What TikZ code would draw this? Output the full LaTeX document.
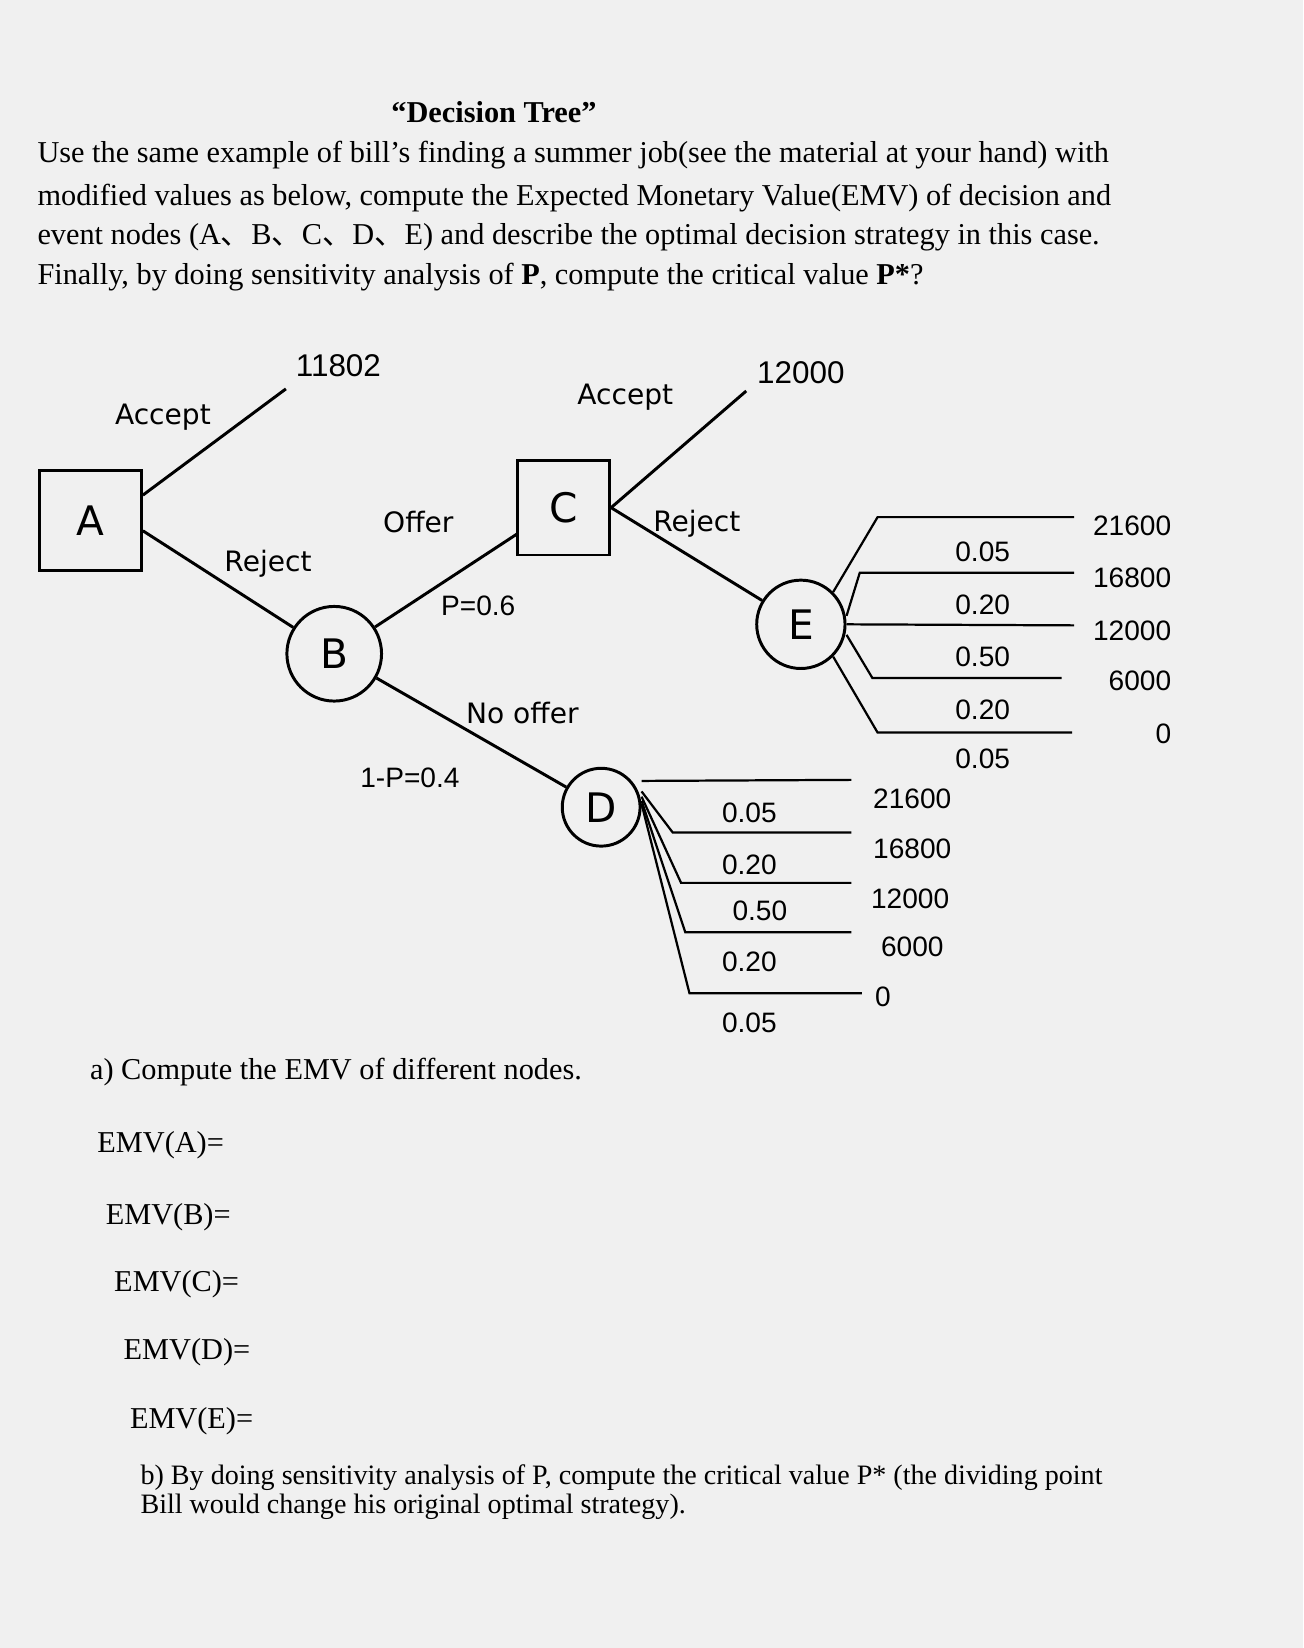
\documentclass[tikz,border=0pt]{standalone}
\usepackage{fontspec}
\setmainfont{Liberation Serif}
\newfontfamily\hand{DejaVu Sans}
\newfontfamily\num{Liberation Sans}
\newfontfamily\cjk{Noto Sans CJK SC}
\newcommand{\dn}{{\cjk 、}}
\begin{document}
\begin{tikzpicture}[x=0.01cm,y=-0.01cm,
  txt/.style={font=\fontsize{8.2}{9}\selectfont,anchor=west,inner sep=0},
  lab/.style={font=\hand\fontsize{7.6}{9}\selectfont,inner sep=0},
  nm/.style={font=\num\fontsize{7.6}{9}\selectfont,inner sep=0},
  br/.style={line width=0.8pt},
  thin/.style={line width=0.6pt}]
\fill[gray!12] (0,0) rectangle (1240,1568);
\useasboundingbox (0,0) rectangle (1240,1568);
\node[txt,anchor=center,font=\bfseries\fontsize{8.2}{9}\selectfont] (title) at (470,107) {“Decision Tree”};
\node[txt] (l1) at (35,148) {Use the same example of bill’s finding a summer job(see the material at your hand) with};
\node[txt] (l2) at (35,188) {modified values as below, compute the Expected Monetary Value(EMV) of decision and};
\node[txt] (l3) at (35,226) {event nodes (A\dn B\dn C\dn D\dn E) and describe the optimal decision strategy in this case.};
\node[txt] (l4) at (35,264) {Finally, by doing sensitivity analysis of \textbf{P}, compute the critical value \textbf{P*}?};
% nodes
\node[draw,br,minimum width=0.97cm,minimum height=0.95cm,lab,font=\hand\fontsize{11}{12}\selectfont] (A) at (86,495) {A};
\node[draw,br,minimum width=0.88cm,minimum height=0.9cm,lab,font=\hand\fontsize{11}{12}\selectfont] (C) at (536,483) {C};
\node[draw,br,circle,minimum size=0.9cm,lab,font=\hand\fontsize{11}{12}\selectfont] (B) at (318,622) {B};
\node[draw,br,circle,minimum size=0.84cm,lab,font=\hand\fontsize{11}{12}\selectfont] (E) at (762,594) {E};
\node[draw,br,circle,minimum size=0.74cm,lab,font=\hand\fontsize{11}{12}\selectfont] (D) at (572,768) {D};
\coordinate (a1) at (272,370);
\coordinate (c1) at (710,372);
\coordinate (cw) at (492,508);
\draw[br] (A.north east)++(0,25) -- (a1);
\draw[br] (A.east)++(0,10) -- (B);
\draw[br] (B) -- (cw);
\draw[br] (C.east) -- (c1);
\draw[br] (C.east) -- (E);
\draw[br] (B) -- (D);
\node[lab] at (155,397) {Accept};
\node[nm,font=\num\fontsize{8.5}{9}\selectfont] at (322,348) {11802};
\node[lab] at (255,536) {Reject};
\node[lab] at (398,497) {Offer};
\node[nm] at (455,576) {P=0.6};
\node[lab] at (595,378) {Accept};
\node[nm,font=\num\fontsize{8.5}{9}\selectfont] at (762,355) {12000};
\node[lab] at (663,498) {Reject};
\node[lab] at (497,678) {No offer};
\node[nm] at (390,740) {1-P=0.4};
% E branches
\draw[thin] (E.north east) -- (835,492) -- (1022,492);
\draw[thin] (E.east)++(0,-8) -- (818,545) -- (1022,545);
\draw[thin] (E.east) -- (1022,595);
\draw[thin] (E.east)++(0,10) -- (830,645) -- (1010,645);
\draw[thin] (E.south east) -- (835,697) -- (1020,697);
\foreach \y/\t in {525/0.05,575/0.20,625/0.50,675/0.20,722/0.05} \node[nm] at (935,\y) {\t};
\foreach \y/\t in {500/21600,550/16800,600/12000,648/6000,698/0} \node[nm,anchor=east] at (1115,\y) {\t};
% D branches
\draw[thin] (D.east)++(0,-25) -- (810,742);
\draw[thin] (D.east)++(0,-15) -- (640,792) -- (810,792);
\draw[thin] (D.east)++(0,-10) -- (648,840) -- (810,840);
\draw[thin] (D.east)++(0,-6) -- (652,887) -- (810,887);
\draw[thin] (D.east)++(0,-3) -- (656,945) -- (820,945);
\foreach \y/\t in {773/0.05,823/0.20,915/0.20,973/0.05} \node[nm] at (713,\y) {\t};
\node[nm] at (723,867) {0.50};
\foreach \x/\y/\t in {868/760/21600,868/808/16800,866/855/12000,868/901/6000,840/948/0} \node[nm] at (\x,\y) {\t};
% bottom
\node[txt] at (85,1020) {a) Compute the EMV of different nodes.};
\node[txt] at (92,1090) {EMV(A)=};
\node[txt] at (100,1158) {EMV(B)=};
\node[txt] at (108,1222) {EMV(C)=};
\node[txt] at (117,1287) {EMV(D)=};
\node[txt] at (123,1352) {EMV(E)=};
\node[txt,font=\fontsize{7.6}{9}\selectfont] at (133,1406) {b) By doing sensitivity analysis of P, compute the critical value P* (the dividing point};
\node[txt,font=\fontsize{7.6}{9}\selectfont] at (133,1434) {Bill would change his original optimal strategy).};
\end{tikzpicture}
\end{document}
